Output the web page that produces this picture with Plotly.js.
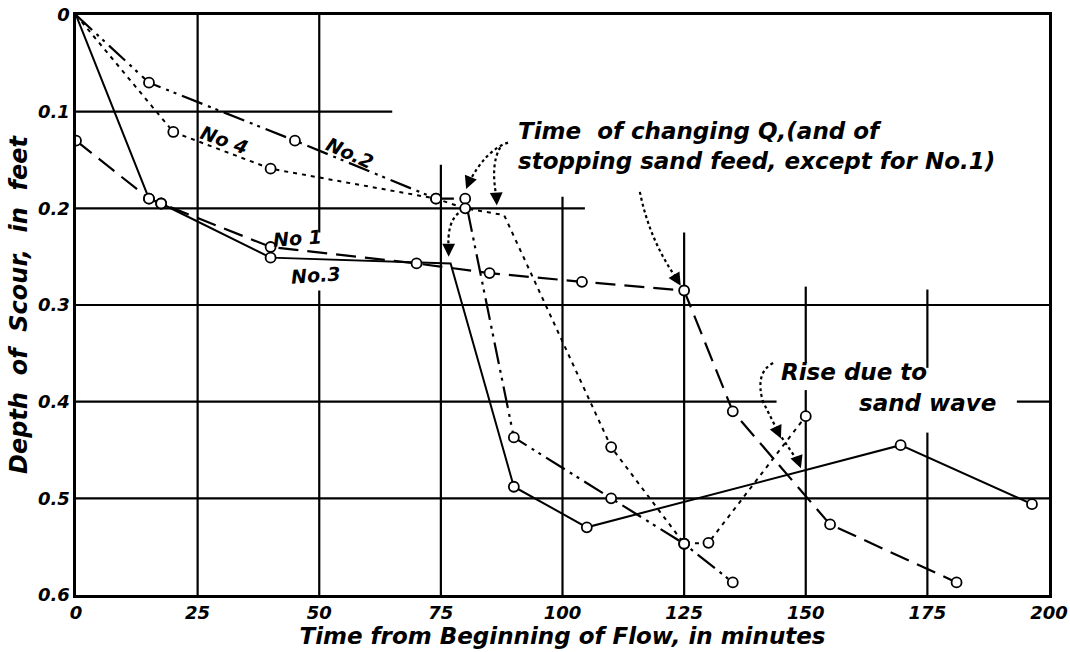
<!DOCTYPE html>
<html>
<head>
<meta charset="utf-8">
<script src="https://cdn.plot.ly/plotly-3.0.1.min.js"></script>
<style>html,body{margin:0;padding:0;background:#fff;}#chart{width:1070px;height:652px;}</style>
</head>
<body>
<div id="chart"></div>
<script>
// ---- data ----
const no1Time  = [0, 15, 17.5, 40, 70, 85, 104, 125, 135, 155, 181];
const no1Depth = [0.13, 0.19, 0.195, 0.24, 0.257, 0.267, 0.276, 0.285, 0.41, 0.527, 0.587];
const no1Measured = [1,1,1,1,1,1,1,1,1,1,1];

const no2Time  = [0, 15, 45, 74, 80, 90, 110, 125, 135];
const no2Depth = [0, 0.07, 0.13, 0.19, 0.19, 0.437, 0.5, 0.547, 0.587];
const no2Measured = [0,1,1,1,1,1,1,1,1];

const no3Time  = [0, 15, 17.5, 40, 77, 90, 105, 169.5, 196.5];
const no3Depth = [0, 0.19, 0.195, 0.251, 0.257, 0.488, 0.53, 0.445, 0.506];
const no3Measured = [0,1,1,1,0,1,1,1,1];

const no4Time  = [0, 20, 40, 74, 80, 88, 110, 125, 130, 150];
const no4Depth = [0, 0.121, 0.159, 0.19, 0.2, 0.207, 0.447, 0.547, 0.546, 0.415];
const no4Measured = [0,1,1,1,1,0,1,1,1,1];

const xTickVals = [0, 25, 50, 75, 100, 125, 150, 175, 200];
const xTickText = ['0', '25', '50', '75', '100', '125', '150', '175', '200'];
const yTickVals = [0, 0.1, 0.2, 0.3, 0.4, 0.5, 0.6];
const yTickText = ['0', '0.1', '0.2', '0.3', '0.4', '0.5', '0.6'];

const seriesNames = ['No. 1', 'No. 2', 'No. 3', 'No. 4'];
const xTitle = 'Time from Beginning of Flow, in minutes';
const yTitle = 'Depth  of  Scour,  in  feet';
const noteQ = 'Time  of changing Q,(and of<br>stopping sand feed, except for No.1)';
const noteRise1 = 'Rise due to';
const noteRise2 = 'sand wave';

// ---- styling / building ----
const HAND = 'DejaVu Sans, Verdana, sans-serif';
function lineTrace(x, y, dash, width, name) {
  return {type: 'scatter', mode: 'lines', name: name, x: x, y: y,
    line: {color: '#000', width: width, dash: dash}, showlegend: false, hoverinfo: 'skip'};
}
function markTrace(x, y, measured, name) {
  const keep = measured.map((m, i) => m ? i : -1).filter(i => i >= 0);
  return {type: 'scatter', mode: 'markers', name: name,
    x: keep.map(i => x[i]), y: keep.map(i => y[i]),
    marker: {symbol: 'circle', color: '#fff', size: 10, line: {color: '#000', width: 1.8}},
    showlegend: false, hoverinfo: 'x+y'};
}
const traces = [
  lineTrace(no3Time, no3Depth, 'solid', 2, seriesNames[2]),
  lineTrace(no1Time, no1Depth, '20px,9px', 2.2, seriesNames[0]),
  lineTrace(no2Time, no2Depth, '22px,6px,3px,5px,3px,6px', 2.2, seriesNames[1]),
  lineTrace(no4Time, no4Depth, '4px,5px', 2, seriesNames[3]),
  markTrace(no3Time, no3Depth, no3Measured, seriesNames[2]),
  markTrace(no1Time, no1Depth, no1Measured, seriesNames[0]),
  markTrace(no2Time, no2Depth, no2Measured, seriesNames[1]),
  markTrace(no4Time, no4Depth, no4Measured, seriesNames[3])
];

// hand-drawn, partly interrupted grid of the original
const gridV = [
  [25, 0, 0.6], [50, 0, 0.225], [50, 0.285, 0.6], [75, 0.155, 0.6], [100, 0.188, 0.6],
  [125, 0.225, 0.6], [150, 0.281, 0.36], [150, 0.388, 0.6], [175, 0.284, 0.365], [175, 0.432, 0.6]
];
const gridH = [
  [0.1, 0, 65], [0.2, 0, 104.6], [0.3, 0, 200], [0.4, 0, 144], [0.4, 193.4, 200], [0.5, 0, 200]
];
const shapes = [];
gridV.forEach(g => shapes.push({type: 'line', xref: 'x', yref: 'y', x0: g[0], x1: g[0], y0: g[1], y1: g[2], line: {color: '#000', width: 2.2}, layer: 'below'}));
gridH.forEach(g => shapes.push({type: 'line', xref: 'x', yref: 'y', y0: g[0], y1: g[0], x0: g[1], x1: g[2], line: {color: '#000', width: 2.2}, layer: 'below'}));

// dotted curved arrow bodies
const arrowPaths = [
  'M 88.8 0.132 Q 84.1 0.14 80.6 0.175',
  'M 87.2 0.137 Q 85.1 0.155 86.5 0.19',
  'M 78.6 0.205 Q 76.2 0.215 76.6 0.243',
  'M 115.9 0.183 Q 118 0.235 123.8 0.275',
  'M 143.3 0.36 Q 139.5 0.37 141.2 0.4 L 144.5 0.433 L 148.6 0.463'
];
arrowPaths.forEach(p => shapes.push({type: 'path', xref: 'x', yref: 'y', path: p, line: {color: '#000', width: 2.2, dash: 'dot'}}));

function head(x, y, ax, ay) {
  return {x: x, y: y, ax: ax, ay: ay, xref: 'x', yref: 'y', axref: 'x', ayref: 'y',
    text: '', showarrow: true, arrowhead: 2, arrowsize: 1.6, arrowwidth: 1.6, arrowcolor: '#000', standoff: 0};
}
function label(text, x, y, angle, size, opts) {
  return Object.assign({x: x, y: y, xref: 'x', yref: 'y', text: text, showarrow: false, textangle: angle,
    font: {family: HAND, size: size, color: '#000', style: 'italic', weight: 'bold'}}, opts || {});
}

const annotations = [
  label('No 4', 30.6, 0.129, 20, 19),
  label('No.2', 56.3, 0.143, 24, 19),
  label('No 1', 45.6, 0.231, -4, 19),
  label('No.3', 49.3, 0.269, -4, 19),
  label(noteQ, 90.4, 0.135, 0, 23, {xanchor: 'left', align: 'left'}),
  label(noteRise1, 144.6, 0.369, 0, 23, {xanchor: 'left'}),
  label(noteRise2, 160.6, 0.401, 0, 23, {xanchor: 'left'}),
  head(80.2, 0.18, 80.9, 0.171),
  head(86.5, 0.197, 86.4, 0.186),
  head(76.6, 0.25, 76.6, 0.24),
  head(124.3, 0.28, 123.2, 0.271),
  head(144.9, 0.438, 144.0, 0.428),
  head(149.0, 0.469, 148.2, 0.458)
];

const tickFont = {family: HAND, size: 18, color: '#000', style: 'italic', weight: 'bold'};
const layout = {
  width: 1070, height: 652,
  margin: {l: 76, r: 21, t: 15, b: 57},
  paper_bgcolor: '#fff', plot_bgcolor: '#fff',
  xaxis: {
    range: [0, 200], tickvals: xTickVals, ticktext: xTickText,
    showgrid: false, zeroline: false, showline: true, mirror: true,
    linecolor: '#000', linewidth: 2.6, ticks: '', tickfont: tickFont,
    title: {text: xTitle, standoff: 2, font: {family: HAND, size: 23, color: '#000', style: 'italic', weight: 'bold'}}
  },
  yaxis: {
    range: [0.6, 0], tickvals: yTickVals, ticktext: yTickText,
    showgrid: false, zeroline: false, showline: true, mirror: true,
    linecolor: '#000', linewidth: 2.6, ticks: '', tickfont: tickFont,
    title: {text: yTitle, standoff: 4, font: {family: HAND, size: 24, color: '#000', style: 'italic', weight: 'bold'}}
  },
  shapes: shapes,
  annotations: annotations,
  showlegend: false
};

Plotly.newPlot('chart', traces, layout, {displayModeBar: false, staticPlot: true});
</script>
</body>
</html>
